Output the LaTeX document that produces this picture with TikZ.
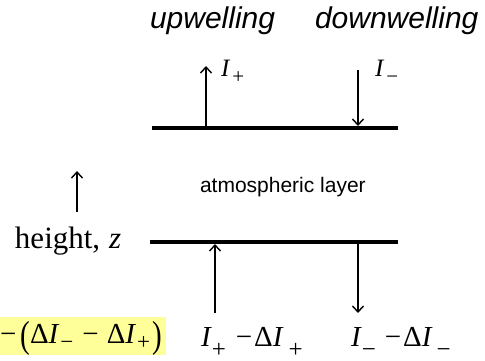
\documentclass[tikz,border=0pt]{standalone}
\usepackage{fontspec}
\setmainfont{Liberation Serif}
\setsansfont{Liberation Sans}
\usepackage{graphicx}
\usetikzlibrary{arrows.meta}
\definecolor{hl}{RGB}{255,255,153}
\tikzset{
  flux/.style={line width=1.4pt, -{Straight Barb[length=6pt,width=11pt,line width=1.4pt]}},
  layerline/.style={line width=4.2pt},
  lbl/.style={inner sep=0pt, outer sep=0pt, anchor=base west},
  toplbl/.style={lbl, font=\sffamily\itshape\fontsize{30}{32}\selectfont},
  mathlbl/.style={lbl, font=\fontsize{29}{32}\selectfont},
  smalllbl/.style={lbl, font=\fontsize{25}{26}\selectfont},
}
\newcommand{\subA}[1]{\raisebox{-11pt}{\fontsize{25}{25}\selectfont #1}}
\newcommand{\subB}[1]{\raisebox{-7pt}{\fontsize{21}{21}\selectfont #1}}
\newcommand{\subC}[1]{\raisebox{-6pt}{\fontsize{23}{23}\selectfont #1}}
\newcommand{\bigparen}[1]{\raisebox{-4pt}{\scalebox{1}[1.3]{#1}}}
\begin{document}
\begin{tikzpicture}[x=1pt,y=-1pt]
\useasboundingbox (0,0) rectangle (485,360);
% highlight
\fill[hl] (0,317) rectangle (166,355);
% layer boundaries
\coordinate (tl) at (152,128);
\coordinate (tr) at (398,128);
\coordinate (bl) at (150,242);
\coordinate (br) at (398,242);
\draw[layerline] (tl) -- (tr);
\draw[layerline] (bl) -- (br);
% top fluxes
\coordinate (upA) at (206,126);
\coordinate (upB) at (206,66);
\coordinate (dnA) at (358,70);
\coordinate (dnB) at (358,126);
\draw[flux] (upA) -- (upB);
\draw[flux] (dnA) -- (dnB);
% bottom fluxes
\coordinate (bupA) at (215,313);
\coordinate (bupB) at (215,244);
\coordinate (bdnA) at (358,244);
\coordinate (bdnB) at (358,313);
\draw[flux] (bupA) -- (bupB);
\draw[flux] (bdnA) -- (bdnB);
% height arrow
\coordinate (hA) at (77,212);
\coordinate (hB) at (77,171);
\draw[flux] (hA) -- (hB);
% labels
\node[toplbl] (up) at (150,28) {upwelling};
\node[toplbl] (down) at (315,28) {downwelling};
\node[smalllbl] (Ip) at (221,76) {\textit{I}\kern2pt\subB{+}};
\node[smalllbl] (Im) at (375,76) {\textit{I}\kern2pt\subB{−}};
\node[lbl, font=\sffamily\fontsize{21}{24}\selectfont] (atm) at (200,192) {atmospheric layer};
\node[lbl, font=\fontsize{31}{33}\selectfont] (hz) at (15,248) {height,\kern9pt\textit{z}};
\node[mathlbl] (Ibp) at (201,346) {\textit{I}\kern0pt\subA{+}\kern10pt−\kern2ptΔ\textit{I}\kern5pt\subA{+}};
\node[mathlbl] (Ibm) at (351,346) {\textit{I}\kern0pt\subA{−}\kern9pt−\kern2ptΔ\textit{I}\kern4pt\subA{−}};
\node[mathlbl] (net) at (0,343) {−\kern4pt\bigparen{(}Δ\textit{I}\kern1pt\subC{−}\kern9pt−\kern8ptΔ\textit{I}\kern1pt\subC{+}\kern2pt\bigparen{)}};
\end{tikzpicture}
\end{document}
